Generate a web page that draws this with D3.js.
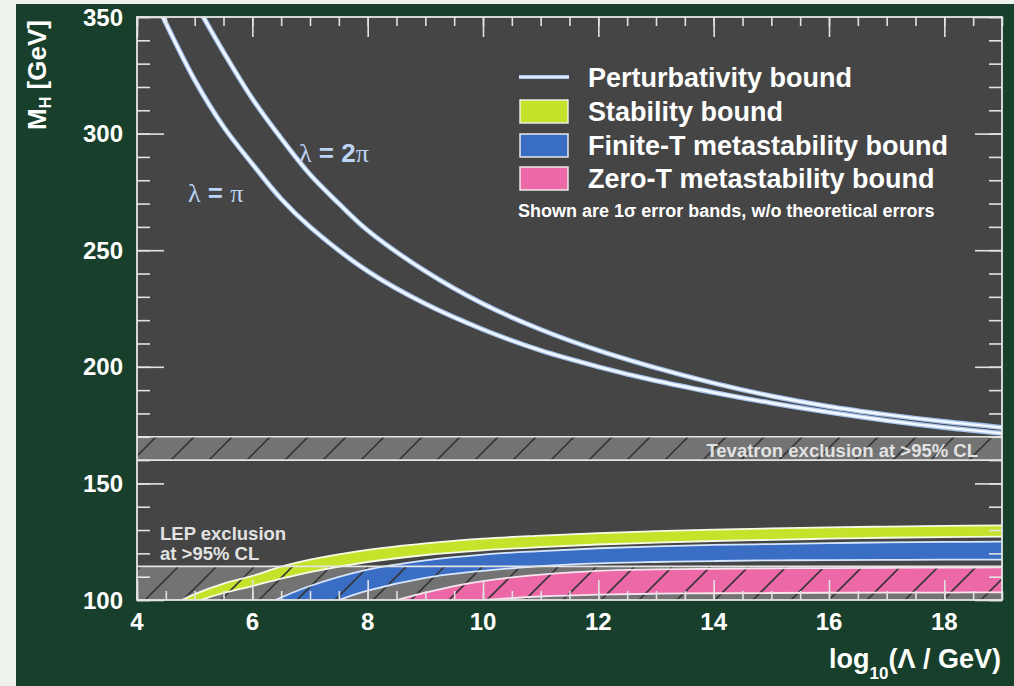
<!DOCTYPE html>
<html>
<head>
<meta charset="utf-8">
<script src="https://cdn.jsdelivr.net/npm/d3@7"></script>
<style>
  html, body { margin: 0; padding: 0; background: #eef2ec; }
  svg { display: block; }
  text { font-family: "Liberation Sans", Arial, sans-serif; }
</style>
</head>
<body>
<svg id="chart" width="1014" height="686"></svg>
<script>
// ---- data: x = log10(Lambda / GeV), y = M_H in GeV ----
const xDomain = [4, 19];
const yDomain = [100, 350];
const xTickLabels = [4, 6, 8, 10, 12, 14, 16, 18];
const yTickLabels = [100, 150, 200, 250, 300, 350];

// perturbativity bounds
const lamPiX  = [4.45, 5, 5.5, 6, 6.5, 7, 8, 9, 10, 11, 12, 13, 14, 15, 16, 17, 18, 19];
const lamPiM  = [350, 323, 303, 287, 272, 260, 241, 227, 216, 207, 200, 194, 189, 184.5, 180.5, 177, 174, 171.5];
const lam2PiX = [5.15, 5.5, 6, 6.5, 7, 7.5, 8, 9, 10, 11, 12, 13, 14, 15, 16, 17, 18, 19];
const lam2PiM = [350, 335, 315, 298, 282.5, 270, 258.5, 241, 227, 216, 207, 199.5, 193, 187.5, 183, 179.5, 176.5, 174];

// stability bound (1 sigma band)
const stabHiX = [4.78, 5, 5.5, 6, 6.5, 7, 8, 9, 10, 11, 12, 13, 14, 15, 16, 17, 18, 19];
const stabHiM = [100, 102.5, 107, 110.3, 114.3, 117.3, 121.5, 124.3, 126.3, 127.6, 128.7, 129.5, 130.2, 130.7, 131.1, 131.5, 131.8, 132];
const stabLoX = [5.1, 5.5, 6, 6.5, 7, 8, 9, 10, 11, 12, 13, 14, 15, 16, 17, 18, 19];
const stabLoM = [100, 103, 106, 109.2, 112, 116.3, 119.3, 121.3, 122.7, 123.8, 124.6, 125.3, 125.8, 126.3, 126.7, 127, 127.2];

// finite-T metastability bound
const finHiX = [6.4, 7, 8, 9, 10, 11, 12, 13, 14, 15, 16, 17, 18, 19];
const finHiM = [100, 106, 113, 117, 119.5, 121, 122.2, 123, 123.6, 124, 124.4, 124.7, 124.9, 125];
const finLoX = [7.5, 8, 9, 10, 11, 12, 13, 14, 15, 16, 17, 18, 19];
const finLoM = [100, 104, 109.5, 112.5, 114.5, 115.7, 116.3, 116.7, 117, 117.1, 117.2, 117.3, 117.3];

// zero-T metastability bound
const zeroHiX = [8.5, 9, 9.5, 10, 10.5, 11, 12, 13, 14, 15, 16, 17, 18, 19];
const zeroHiM = [100, 103.2, 106, 108.1, 109.7, 110.9, 112.5, 113.1, 113.4, 113.6, 113.7, 113.8, 113.9, 114];
const zeroLoX = [10, 10.5, 11, 12, 13, 14, 15, 16, 17, 18, 19];
const zeroLoM = [100, 100.8, 101.5, 102.3, 102.7, 102.9, 103, 103.1, 103.2, 103.2, 103.3];

// direct search exclusions
const tevatronRange = [160, 170];
const lepRange = [100, 114.4];

// legend entries
const legendLabels = ["Perturbativity bound", "Stability bound", "Finite-T metastability bound", "Zero-T metastability bound"];
const legendNote = "Shown are 1\u03c3 error bands, w/o theoretical errors";

// ---- layout ----
const svg = d3.select("#chart");
const W = 1014, H = 686;
const plot = { left: 137, top: 17, right: 1002, bottom: 600 };

const col = {
  panel: "#183f2b",
  plotBg: "#454545",
  hatchFill: "#737373",
  hatchLine: "#363636",
  frame: "#e6e6e6",
  stab: "#c4e32a",
  fin: "#3a6ec4",
  zero: "#ec68a6",
  pert: "#a8c6f0",
  text: "#ffffff"
};

const x = d3.scaleLinear().domain(xDomain).range([plot.left, plot.right]);
const y = d3.scaleLinear().domain(yDomain).range([plot.bottom, plot.top]);

// outer green panel
svg.append("rect").attr("x", 16).attr("y", 4).attr("width", W - 16).attr("height", H - 4).attr("fill", col.panel);

const defs = svg.append("defs");
defs.append("clipPath").attr("id", "plotClip")
  .append("rect").attr("x", plot.left).attr("y", plot.top)
  .attr("width", plot.right - plot.left).attr("height", plot.bottom - plot.top);

// diagonal hatch for excluded regions
const hatch = defs.append("pattern").attr("id", "hatch")
  .attr("patternUnits", "userSpaceOnUse").attr("width", 38).attr("height", 38)
  .attr("x", plot.left).attr("y", 0);
hatch.append("path").attr("d", "M0,38 L38,0 M-10,10 L10,-10 M28,48 L48,28")
  .attr("stroke", col.hatchLine).attr("stroke-width", 1.6).attr("fill", "none");

const g = svg.append("g").attr("clip-path", "url(#plotClip)");

g.append("rect").attr("x", plot.left).attr("y", plot.top)
  .attr("width", plot.right - plot.left).attr("height", plot.bottom - plot.top)
  .attr("fill", col.plotBg);

// grey fills of exclusion regions
function bandRect(range) {
  return { x: x(xDomain[0]), y: y(range[1]), w: x(xDomain[1]) - x(xDomain[0]), h: y(range[0]) - y(range[1]) };
}
[tevatronRange, lepRange].forEach(r => {
  const b = bandRect(r);
  g.append("rect").attr("x", b.x).attr("y", b.y).attr("width", b.w).attr("height", b.h).attr("fill", col.hatchFill);
});

// bound bands
const edge = d3.line().x(d => x(d[0])).y(d => y(d[1])).curve(d3.curveCatmullRom.alpha(0.5));
function zipPts(xs, ms) { return xs.map((v, i) => [v, ms[i]]); }
function bandPath(hiX, hiM, loX, loM) {
  const hi = zipPts(hiX, hiM);
  const lo = zipPts(loX, loM).reverse();
  return edge(hi) + "L" + edge(lo).slice(1) + "Z";
}
const bands = [
  { hiX: stabHiX, hiM: stabHiM, loX: stabLoX, loM: stabLoM, fill: col.stab, line: "#f6fbe6" },
  { hiX: finHiX, hiM: finHiM, loX: finLoX, loM: finLoM, fill: col.fin, line: "#d6e6ff" },
  { hiX: zeroHiX, hiM: zeroHiM, loX: zeroLoX, loM: zeroLoM, fill: col.zero, line: "#f8e4ef" }
];
bands.forEach(b => {
  g.append("path").attr("d", bandPath(b.hiX, b.hiM, b.loX, b.loM)).attr("fill", b.fill);
});

// hatch lines over the exclusion regions
[tevatronRange, lepRange].forEach(r => {
  const b = bandRect(r);
  g.append("rect").attr("x", b.x).attr("y", b.y).attr("width", b.w).attr("height", b.h).attr("fill", "url(#hatch)");
});

// band outlines
bands.forEach(b => {
  g.append("path").attr("d", edge(zipPts(b.hiX, b.hiM))).attr("fill", "none").attr("stroke", b.line).attr("stroke-width", 1.8);
  g.append("path").attr("d", edge(zipPts(b.loX, b.loM))).attr("fill", "none").attr("stroke", b.line).attr("stroke-width", 1.8);
});

// boundary lines of the exclusion regions
[tevatronRange[0], tevatronRange[1], lepRange[1]].forEach(v => {
  g.append("line").attr("x1", plot.left).attr("x2", plot.right).attr("y1", y(v)).attr("y2", y(v))
    .attr("stroke", "#e4e4e4").attr("stroke-width", 1.6);
});

// perturbativity curves
const pertLine = d3.line().x(d => x(d[0])).y(d => y(d[1])).curve(d3.curveCatmullRom.alpha(0.5));
[[lamPiX, lamPiM], [lam2PiX, lam2PiM]].forEach(([xs, ms]) => {
  const d = pertLine(zipPts(xs, ms));
  g.append("path").attr("d", d).attr("fill", "none").attr("stroke", col.pert).attr("stroke-width", 5);
  g.append("path").attr("d", d).attr("fill", "none").attr("stroke", "#f4f8ff").attr("stroke-width", 2.4);
});

// ---- axes (inward ticks on all four sides) ----
const tickCol = "#e2e2e2";
const xMajor = d3.range(4, 19.001, 2), xMinor = d3.range(4, 19.001, 0.5);
const yMajor = d3.range(100, 350.001, 50), yMinor = d3.range(100, 350.001, 10);

const axisBottom = d3.axisBottom(x).tickValues(xMinor).tickFormat("").tickSizeInner(-9).tickSizeOuter(0);
const axisBottomMajor = d3.axisBottom(x).tickValues(xMajor).tickFormat("").tickSizeInner(-20).tickSizeOuter(0);
const axisTop = d3.axisTop(x).tickValues(xMinor).tickFormat("").tickSizeInner(-9).tickSizeOuter(0);
const axisTopMajor = d3.axisTop(x).tickValues(xMajor).tickFormat("").tickSizeInner(-20).tickSizeOuter(0);
const axisLeft = d3.axisLeft(y).tickValues(yMinor).tickFormat("").tickSizeInner(-13).tickSizeOuter(0);
const axisLeftMajor = d3.axisLeft(y).tickValues(yMajor).tickFormat("").tickSizeInner(-27).tickSizeOuter(0);
const axisRight = d3.axisRight(y).tickValues(yMinor).tickFormat("").tickSizeInner(-13).tickSizeOuter(0);
const axisRightMajor = d3.axisRight(y).tickValues(yMajor).tickFormat("").tickSizeInner(-27).tickSizeOuter(0);

function drawAxis(ax, tx, ty) {
  const a = svg.append("g").attr("transform", `translate(${tx},${ty})`).call(ax);
  a.select(".domain").remove();
  a.selectAll("line").attr("stroke", tickCol).attr("stroke-width", 1.6);
  return a;
}
drawAxis(axisBottom, 0, plot.bottom);
drawAxis(axisBottomMajor, 0, plot.bottom);
drawAxis(axisTop, 0, plot.top);
drawAxis(axisTopMajor, 0, plot.top);
drawAxis(axisLeft, plot.left, 0);
drawAxis(axisLeftMajor, plot.left, 0);
drawAxis(axisRight, plot.right, 0);
drawAxis(axisRightMajor, plot.right, 0);

// frame
svg.append("rect").attr("x", plot.left).attr("y", plot.top)
  .attr("width", plot.right - plot.left).attr("height", plot.bottom - plot.top)
  .attr("fill", "none").attr("stroke", col.frame).attr("stroke-width", 1.8);

// tick labels
svg.append("g").selectAll("text").data(xTickLabels).join("text")
  .attr("x", d => x(d)).attr("y", 630)
  .attr("text-anchor", "middle").attr("fill", col.text)
  .attr("font-size", 24).attr("font-weight", "bold").text(d => d);
svg.append("g").selectAll("text").data(yTickLabels).join("text")
  .attr("x", 123).attr("y", d => y(d) + 8.5)
  .attr("text-anchor", "end").attr("fill", col.text)
  .attr("font-size", 24).attr("font-weight", "bold").text(d => d);

// axis titles
const yTitle = svg.append("text").attr("transform", "translate(46,75) rotate(-90)")
  .attr("text-anchor", "middle").attr("fill", col.text).attr("font-size", 26).attr("font-weight", "bold");
yTitle.append("tspan").text("M");
yTitle.append("tspan").attr("font-size", 16).attr("dy", 5).text("H");
yTitle.append("tspan").attr("dy", -5).text(" [GeV]");

const xTitle = svg.append("text").attr("x", 1001).attr("y", 668)
  .attr("text-anchor", "end").attr("fill", col.text).attr("font-size", 27).attr("font-weight", "bold");
xTitle.append("tspan").text("log");
xTitle.append("tspan").attr("font-size", 17).attr("dy", 11).text("10");
xTitle.append("tspan").attr("dy", -11).text("(\u039b / GeV)");

// curve labels
function lambdaLabel(px, py, num) {
  const t = svg.append("text").attr("x", px).attr("y", py).attr("fill", "#bcd4f6").attr("font-size", 26);
  t.append("tspan").attr("font-family", "Liberation Serif, serif").text("\u03bb");
  t.append("tspan").attr("font-weight", "bold").text(" = ");
  if (num) t.append("tspan").attr("font-weight", "bold").text(num);
  t.append("tspan").attr("font-family", "Liberation Serif, serif").text("\u03c0");
}
lambdaLabel(299, 162, "2");
lambdaLabel(188, 202, "");

// exclusion labels
svg.append("text").attr("x", 978).attr("y", 457).attr("text-anchor", "end")
  .attr("fill", "#e2e2e2").attr("font-size", 18.5).attr("font-weight", "bold")
  .text("Tevatron exclusion at >95% CL");
svg.append("text").attr("x", 160).attr("y", 540).attr("fill", "#e2e2e2")
  .attr("font-size", 18.5).attr("font-weight", "bold").text("LEP exclusion");
svg.append("text").attr("x", 160).attr("y", 560).attr("fill", "#e2e2e2")
  .attr("font-size", 18.5).attr("font-weight", "bold").text("at >95% CL");

// legend
const legendRows = [77, 111, 145, 178];
const lg = svg.append("g");
lg.append("line").attr("x1", 519).attr("x2", 569).attr("y1", legendRows[0]).attr("y2", legendRows[0])
  .attr("stroke", col.pert).attr("stroke-width", 4);
lg.append("line").attr("x1", 519).attr("x2", 569).attr("y1", legendRows[0]).attr("y2", legendRows[0])
  .attr("stroke", "#eef4ff").attr("stroke-width", 1.5);
[col.stab, col.fin, col.zero].forEach((c, i) => {
  lg.append("rect").attr("x", 520).attr("y", legendRows[i + 1] - 11).attr("width", 48).attr("height", 23)
    .attr("fill", c).attr("stroke", "#f2f2f2").attr("stroke-width", 1.4);
});
legendLabels.forEach((s, i) => {
  lg.append("text").attr("x", 588).attr("y", legendRows[i] + 10).attr("fill", col.text)
    .attr("font-size", 27).attr("font-weight", "bold").text(s);
});
lg.append("text").attr("x", 518).attr("y", 217).attr("fill", col.text)
  .attr("font-size", 18).attr("font-weight", "bold").text(legendNote);
</script>
</body>
</html>
